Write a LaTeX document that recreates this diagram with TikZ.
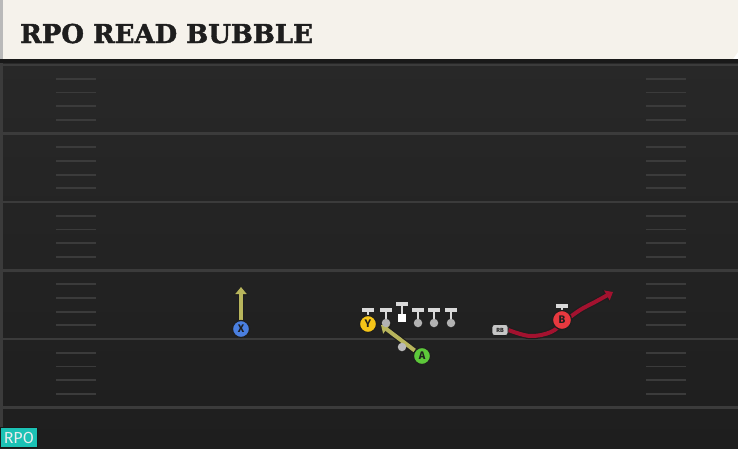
\documentclass[tikz,border=0pt]{standalone}
\usepackage{fontspec}
\newfontfamily\titlefont{DejaVu Serif}[BoldFeatures={FakeBold=1.6}]
\newfontfamily\labelfont{Fira Sans}
\usetikzlibrary{arrows.meta}

\definecolor{fieldtop}{HTML}{282828}
\definecolor{fieldbot}{HTML}{1E1E1E}
\definecolor{yardgray}{HTML}{3B3B3B}
\definecolor{titlebg}{HTML}{F5F2EB}
\definecolor{rpoteal}{HTML}{1CC2B5}
\definecolor{olive}{HTML}{B8B55C}
\definecolor{routered}{HTML}{A3122F}
\definecolor{xblue}{HTML}{4A7FE0}
\definecolor{yyellow}{HTML}{F5C518}
\definecolor{agreen}{HTML}{5DC83A}
\definecolor{bred}{HTML}{E8393F}
\definecolor{ink}{HTML}{1E1E1E}

\pgfdeclarelayer{field}
\pgfdeclarelayer{routes}
\pgfsetlayers{field,routes,main}

\tikzset{
	player/.style={circle, draw=ink, line width=1.2pt, minimum size=17pt, inner sep=0pt, font=\labelfont\bfseries\fontsize{11}{11}\selectfont, text=ink},
	hashmark/.style={yardgray, line width=1.8pt},
	tbar/.style={draw=gray!30, line width=3.5pt},
	tstem/.style={draw=gray!30, line width=2.6pt},
	lineman/.style={circle, fill=gray!60, minimum size=8.5pt, inner sep=0pt},
	route/.style={line width=4pt, -{Triangle[length=7pt,width=11pt]}, preaction={draw=ink, line width=6.4pt, -{Triangle[length=8.5pt,width=14pt]}}}
}

\begin{document}
\begin{tikzpicture}[x=1pt,y=-1pt]

	\useasboundingbox (0,0) rectangle (738,448);

	% field
	\begin{pgfonlayer}{field}
	\shade[top color=fieldtop, bottom color=fieldbot] (0,59) rectangle (738,448);
	\fill[yardgray] (0,59) rectangle (2.5,448);
	\foreach \k in {0,...,5}
		\draw[yardgray, line width=2.2pt] (0,{65+68.5*\k}) -- (738,{65+68.5*\k});
	\foreach \k in {0,...,4}
		\foreach \j in {1,...,4} {
			\draw[hashmark] (56,{65+68.5*\k+13.7*\j}) -- (96,{65+68.5*\k+13.7*\j});
			\draw[hashmark] (646,{65+68.5*\k+13.7*\j}) -- (686,{65+68.5*\k+13.7*\j});
		}
	\end{pgfonlayer}

	% title bar
	\fill[titlebg] (0,0) -- (738,0) -- (738,52) -- (733,59) -- (0,59) -- cycle;
	\fill[gray!55] (0,0) rectangle (2.5,59);
	\fill[black!90] (0,59) rectangle (738,63);
	\node[anchor=base west, inner sep=0pt, font=\titlefont\bfseries\fontsize{26}{26}\selectfont, text=ink] (title) at (20,43) {RPO READ BUBBLE};

	% RPO tag
	\node[fill=rpoteal, draw=black!90, line width=0.6pt, anchor=south west, minimum width=37pt, minimum height=20pt, inner sep=0pt, font=\labelfont\fontsize{16}{16}\selectfont, text=white!92!black] (rpo) at (0,448) {RPO};

	% line
	\foreach \xx/\nm in {386/lt, 418/rg, 434/rt, 451/te} {
		\draw[tstem] (\xx,310) -- (\xx,323);
		\draw[tbar] (\xx-6,310) -- (\xx+6,310);
		\node[lineman] (\nm) at (\xx,323) {};
	}
	\draw[tstem] (402,304) -- (402,314);
	\draw[tbar] (396,304) -- (408,304);
	\node[fill=white, minimum width=7.5pt, minimum height=8.5pt, inner sep=0pt] (ctr) at (402,318) {};
	\node[lineman, fill=gray!55] (qb) at (402,347) {};

	\draw[tstem] (368,310) -- (368,320);
	\draw[tbar] (362,310) -- (374,310);
	\draw[tstem] (562,306) -- (562,314);
	\draw[tbar] (556,306) -- (568,306);

	% players
	\node[player, fill=xblue] (X) at (241,329) {X};
	\node[player, fill=yyellow] (Y) at (368,324) {Y};
	\node[player, fill=agreen] (A) at (422,356) {A};
	\node[player, fill=bred, minimum size=19pt] (B) at (562,320) {B};
	\node[rounded corners=2.5pt, fill=gray!45, draw=ink, line width=0.8pt, minimum width=16pt, minimum height=11pt, inner sep=0pt, font=\labelfont\bfseries\fontsize{6}{6}\selectfont, text=ink] (RB) at (500,330) {RB};

	% routes
	\coordinate (xend) at (241,287);
	\coordinate (aend) at (381,325);
	\coordinate (rbend) at (613,292);
	\begin{pgfonlayer}{routes}
	\draw[route, olive] (X) -- (xend);
	\draw[route, olive] (A) -- (aend);
	\draw[route, routered] plot[smooth, tension=0.6] coordinates {(RB.east) (530,336) (551,332) (565,321) (580,310) (595,302) (rbend)};
	\end{pgfonlayer}

\end{tikzpicture}
\end{document}
